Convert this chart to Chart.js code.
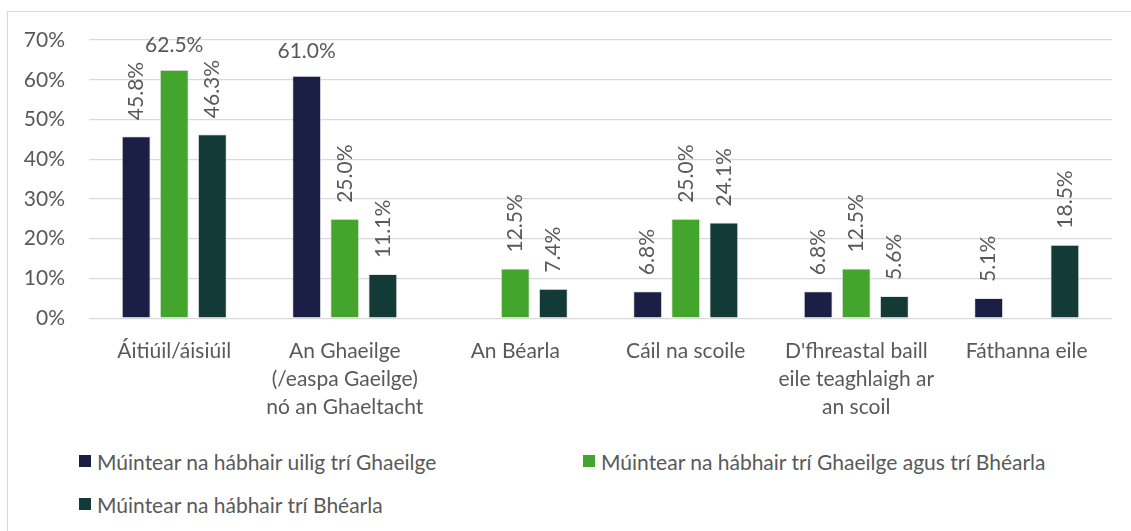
<!DOCTYPE html>
<html>
<head>
<meta charset="utf-8">
<script src="https://cdn.jsdelivr.net/npm/chart.js@4.4.1/dist/chart.umd.min.js"></script>
<style>
  body { margin: 0; background: #fff; font-family: Lato, sans-serif; }
  #frame { position: absolute; left: 7px; top: 11px; width: 1140px; height: 540px; border: 1px solid #d9d9d9; }
  #wrap { position: absolute; left: 0; top: 0; width: 1115px; height: 420px; }
  #legend { position: absolute; left: 71px; top: 436px; display: grid; grid-template-columns: 504px 504px; row-gap: 17px; }
  .item { display: flex; align-items: center; height: 26px; font-size: 21px; color: #595959; white-space: nowrap; }
  .box { width: 12px; height: 12px; margin-right: 6px; flex: none; }
</style>
</head>
<body>
<div id="frame">
  <div id="wrap"><canvas id="chart"></canvas></div>
  <div id="legend"></div>
</div>
<script>
// categorias (eixo x)
var categorias = [
    'Áitiúil/áisiúil',
    ['An Ghaeilge', '(/easpa Gaeilge)', 'nó an Ghaeltacht'],
    'An Béarla',
    'Cáil na scoile',
    ["D'fhreastal baill", 'eile teaghlaigh ar', 'an scoil'],
    'Fáthanna eile'
];

// séries
var nomesSeries = [
    'Múintear na hábhair uilig trí Ghaeilge',
    'Múintear na hábhair trí Ghaeilge agus trí Bhéarla',
    'Múintear na hábhair trí Bhéarla'
];
var coresSeries = ['#1b1f45', '#43a52c', '#123b38'];

var uiligGaeilge = [45.8, 61.0, null, 6.8, 6.8, 5.1];
var gaeilgeBearla = [62.5, 25.0, 12.5, 25.0, 12.5, null];
var bearla = [46.3, 11.1, 7.4, 24.1, 5.6, 18.5];

var ticksY = [0, 10, 20, 30, 40, 50, 60, 70];

var fonte = 'Lato';
var tamanho = 21;
var corTexto = '#595959';

// rótulos de valor em cima das barras
var rotulos = {
    id: 'rotulos',
    afterDatasetsDraw: function (chart) {
        var ctx = chart.ctx;
        ctx.save();
        ctx.font = tamanho + 'px ' + fonte;
        ctx.fillStyle = corTexto;
        chart.data.datasets.forEach(function (ds, i) {
            chart.getDatasetMeta(i).data.forEach(function (bar, j) {
                var v = ds.data[j];
                if (v == null) return;
                var txt = v.toFixed(1) + '%';
                if (v > 55) {
                    // rótulos altos ficam na horizontal
                    ctx.textAlign = 'center';
                    ctx.textBaseline = 'alphabetic';
                    ctx.fillText(txt, bar.x, bar.y - 18);
                } else {
                    ctx.save();
                    ctx.translate(bar.x, bar.y - 16);
                    ctx.rotate(-Math.PI / 2);
                    ctx.textAlign = 'left';
                    ctx.textBaseline = 'middle';
                    ctx.fillText(txt, 0, 0);
                    ctx.restore();
                }
            });
        });
        ctx.restore();
    }
};

var datasets = [uiligGaeilge, gaeilgeBearla, bearla].map(function (d, i) {
    return {
        label: nomesSeries[i],
        data: d,
        backgroundColor: coresSeries[i],
        borderColor: 'rgba(215, 215, 220, 0.6)',
        borderWidth: 1,
        categoryPercentage: 0.67,
        barPercentage: 0.76
    };
});

new Chart(document.getElementById('chart').getContext('2d'), {
    type: 'bar',
    data: { labels: categorias, datasets: datasets },
    options: {
        responsive: true,
        maintainAspectRatio: false,
        animation: false,
        layout: { padding: { top: 28, left: 16, right: 11, bottom: 0 } },
        plugins: { legend: { display: false }, tooltip: { enabled: false } },
        scales: {
            x: {
                grid: { display: false },
                border: { display: false },
                ticks: {
                    color: corTexto,
                    font: { family: fonte, size: tamanho, lineHeight: 1.33 },
                    padding: 11,
                    maxRotation: 0,
                    autoSkip: false
                },
                afterFit: function (s) {
                    s.paddingLeft = 0;
                    s.paddingRight = 0;
                }
            },
            y: {
                min: 0,
                max: 70,
                afterBuildTicks: function (axis) {
                    axis.ticks = ticksY.map(function (v) { return { value: v }; });
                },
                afterFit: function (s) {
                    s.width = 65;
                    s.paddingTop = 0;
                    s.paddingBottom = 0;
                },
                grid: { color: '#d9d9d9', lineWidth: 1.3, drawTicks: false },
                border: { display: false },
                ticks: {
                    color: corTexto,
                    font: { family: fonte, size: tamanho },
                    padding: 24,
                    callback: function (v) { return v + '%'; }
                }
            }
        }
    },
    plugins: [rotulos]
});

// legenda em HTML, duas colunas
var leg = document.getElementById('legend');
nomesSeries.forEach(function (nome, i) {
    var it = document.createElement('div');
    it.className = 'item';
    var b = document.createElement('span');
    b.className = 'box';
    b.style.background = coresSeries[i];
    it.appendChild(b);
    it.appendChild(document.createTextNode(nome));
    leg.appendChild(it);
});
</script>
</body>
</html>
